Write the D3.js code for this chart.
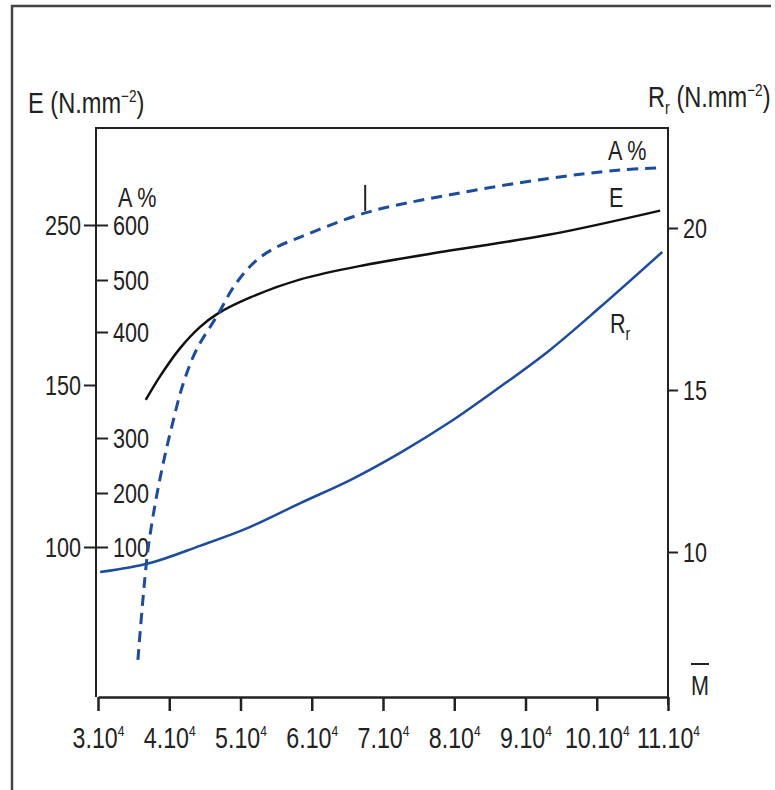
<!DOCTYPE html>
<html>
<head>
<meta charset="utf-8">
<script src="https://cdn.jsdelivr.net/npm/d3@7"></script>
<style>
  body { margin: 0; background: #fff; }
  svg text { font-family: "Liberation Sans", Arial, sans-serif; fill: #222; }
</style>
</head>
<body>
<svg id="chart"></svg>
<script>
// molar mass axis, in units of 10^4
const M_TICKS = [3, 4, 5, 6, 7, 8, 9, 10, 11];
const E_TICKS = [100, 150, 250];
const A_TICKS = [100, 200, 300, 400, 500, 600];
const R_TICKS = [10, 15, 20];

// E (N.mm-2), black solid
const E_M = [3.67, 3.87, 4.15, 4.43, 4.68, 5.13, 5.84, 6.75, 7.94, 9.34, 10.89];
const E_VAL = [145.4, 155.4, 172.9, 186.2, 194.6, 204.6, 216, 225, 234, 244, 259];

// A %, blue dashed
const A_M = [3.56, 3.63, 3.70, 3.80, 3.91, 4.04, 4.19, 4.38, 4.68, 4.92, 5.20, 5.48, 5.84, 6.75, 7.94, 9.34, 10.33, 10.89];
const A_VAL = [-109, 2, 94, 178, 251, 312, 350, 383, 433, 490, 533, 558, 578, 622, 655, 685, 700, 704];

// Rr (N.mm-2), blue solid
const R_M = [3.03, 3.73, 4.43, 5.13, 5.84, 6.54, 7.24, 7.94, 8.64, 9.34, 10.05, 10.92];
const R_VAL = [9.38, 9.66, 10.19, 10.77, 11.51, 12.22, 13.06, 14.01, 15.09, 16.23, 17.56, 19.26];

(() => {
  const width = 775;
  const height = 790;
  const boxL = 96, boxR = 668, boxT = 128, boxB = 697;
  const ink = '#222';
  const blue = '#1d4c9c';
  const SX = 0.8; // the scan uses a condensed face

  const svg = d3.select('#chart').attr('width', width).attr('height', height);

  // squeeze a text horizontally without moving its anchor
  function narrow(sel) {
    sel.each(function () {
      const t = d3.select(this);
      const x0 = +t.attr('x') || 0;
      t.attr('x', x0 / SX).attr('transform', `scale(${SX},1)`);
    });
  }

  // outer frame of the scanned page
  svg.append('path')
    .attr('d', `M12,${height + 2} L12,6 L771,6`)
    .attr('fill', 'none')
    .attr('stroke', '#444')
    .attr('stroke-width', 2.5);

  // scales (the vertical ones are hand-drawn, not evenly spaced)
  const x = d3.scaleLinear().domain([3, 11]).range([98, boxR]);
  const yE = d3.scaleLinear().domain([100, 150, 250]).range([547, 385, 225]);
  const yA = d3.scaleLinear().domain(A_TICKS).range([547, 493, 438, 332, 280, 225]);
  const yR = d3.scaleLinear().domain([10, 20]).range([552, 228]);

  // plot box
  svg.append('path')
    .attr('d', `M${boxL},${boxB} L${boxL},${boxT} L${boxR},${boxT} L${boxR},${boxB + 8}`)
    .attr('fill', 'none')
    .attr('stroke', ink)
    .attr('stroke-width', 2);

  // bottom axis
  const xAxis = d3.axisBottom(x)
    .tickValues(M_TICKS)
    .tickSize(14)
    .tickSizeOuter(0)
    .tickFormat(() => '');
  const gx = svg.append('g')
    .attr('transform', `translate(0,${boxB})`)
    .call(xAxis);
  gx.select('.domain').attr('stroke', ink).attr('stroke-width', 2.5);
  gx.selectAll('.tick line').attr('stroke', ink).attr('stroke-width', 2.5);
  gx.selectAll('.tick text').remove();
  gx.selectAll('.tick').append('text')
    .attr('y', 51)
    .attr('text-anchor', 'middle')
    .attr('font-size', 29)
    .each(function (d) {
      const t = d3.select(this);
      t.append('tspan').text(d + '.10');
      t.append('tspan').attr('dy', -12).attr('font-size', 15).text('4');
    })
    .call(narrow);

  // left E axis (ticks outwards)
  const gE = svg.append('g')
    .attr('transform', `translate(${boxL},0)`)
    .call(d3.axisLeft(yE).tickValues(E_TICKS).tickSize(12).tickPadding(3).tickSizeOuter(0));
  gE.select('.domain').remove();
  gE.selectAll('.tick line').attr('stroke', ink).attr('stroke-width', 2);
  gE.selectAll('.tick text').attr('font-size', 27).attr('fill', ink).attr('dy', '0.36em').call(narrow);

  // inner A % axis (ticks inwards)
  const gA = svg.append('g')
    .attr('transform', `translate(${boxL},0)`)
    .call(d3.axisRight(yA).tickValues(A_TICKS).tickSize(12).tickPadding(5).tickSizeOuter(0));
  gA.select('.domain').remove();
  gA.selectAll('.tick line').attr('stroke', ink).attr('stroke-width', 2);
  gA.selectAll('.tick text').attr('font-size', 27).attr('fill', ink).attr('dy', '0.36em').call(narrow);

  // right Rr axis
  const gR = svg.append('g')
    .attr('transform', `translate(${boxR},0)`)
    .call(d3.axisRight(yR).tickValues(R_TICKS).tickSize(10).tickPadding(5).tickSizeOuter(0));
  gR.select('.domain').remove();
  gR.selectAll('.tick line').attr('stroke', ink).attr('stroke-width', 2);
  gR.selectAll('.tick text').attr('font-size', 27).attr('fill', ink).attr('dy', '0.36em').call(narrow);

  // curves
  const smooth = d3.curveCatmullRom.alpha(0.5);
  const lineE = d3.line().x((d, i) => x(E_M[i])).y(d => yE(d)).curve(smooth);
  const lineA = d3.line().x((d, i) => x(A_M[i])).y(d => yA(d)).curve(smooth);
  const lineR = d3.line().x((d, i) => x(R_M[i])).y(d => yR(d)).curve(smooth);

  svg.append('path').datum(R_VAL)
    .attr('d', lineR)
    .attr('fill', 'none')
    .attr('stroke', blue)
    .attr('stroke-width', 2.5);

  svg.append('path').datum(E_VAL)
    .attr('d', lineE)
    .attr('fill', 'none')
    .attr('stroke', '#111')
    .attr('stroke-width', 2.5);

  svg.append('path').datum(A_VAL)
    .attr('d', lineA)
    .attr('fill', 'none')
    .attr('stroke', blue)
    .attr('stroke-width', 3)
    .attr('stroke-dasharray', '11 7');

  // small vertical mark above the A % curve
  svg.append('line')
    .attr('x1', x(6.75)).attr('x2', x(6.75))
    .attr('y1', yA(622) - 28).attr('y2', yA(622) - 2)
    .attr('stroke', ink)
    .attr('stroke-width', 2);

  // axis titles
  function unitTitle(sel, main, sub) {
    sel.append('tspan').text(main);
    if (sub) sel.append('tspan').attr('dy', 7).attr('font-size', 18).text(sub);
    sel.append('tspan').attr('dy', sub ? -7 : 0).text(' (N.mm');
    sel.append('tspan').attr('dy', -11).attr('font-size', 17).text('−2');
    sel.append('tspan').attr('dy', 11).text(')');
  }
  svg.append('text').attr('x', 28).attr('y', 113).attr('font-size', 29.5)
    .call(unitTitle, 'E', null).call(narrow);
  svg.append('text').attr('x', 648).attr('y', 107).attr('font-size', 29.5)
    .call(unitTitle, 'R', 'r').call(narrow);

  // curve labels
  svg.append('text').attr('x', 118).attr('y', 207).attr('font-size', 27).text('A %').call(narrow);
  svg.append('text').attr('x', 608).attr('y', 160).attr('font-size', 27).text('A %').call(narrow);
  svg.append('text').attr('x', 609).attr('y', 207).attr('font-size', 27).text('E').call(narrow);
  const rLab = svg.append('text').attr('x', 610).attr('y', 333).attr('font-size', 27);
  rLab.append('tspan').text('R');
  rLab.append('tspan').attr('dy', 7).attr('font-size', 18).text('r');
  rLab.call(narrow);

  // M bar
  svg.append('text').attr('x', 700).attr('y', 695).attr('font-size', 27)
    .attr('text-anchor', 'middle').text('M').call(narrow);
  svg.append('line')
    .attr('x1', 691).attr('x2', 709).attr('y1', 664).attr('y2', 664)
    .attr('stroke', ink).attr('stroke-width', 2);
})();
</script>
</body>
</html>
